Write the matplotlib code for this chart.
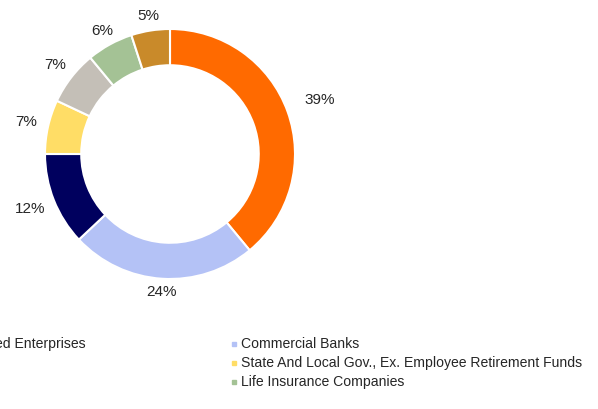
import matplotlib
matplotlib.use("Agg")
import matplotlib.pyplot as plt
import numpy as np

plt.rcParams['font.family'] = ['Liberation Sans', 'DejaVu Sans']

# ---------------------------------------------------------------
# Holdings breakdown (percent of total)
# ---------------------------------------------------------------
holders = ['Government Sponsored Enterprises', 'Commercial Banks', '',
           'State And Local Gov., Ex. Employee Retirement Funds', '',
           'Life Insurance Companies', '']
shares = [39, 24, 12, 7, 7, 6, 5]
colors = ['#FF6A00', '#B4C2F6', '#00005E', '#FFDD66', '#C4BFB7', '#A4C295', '#C98A2A']

# radial distance of each percent label (in pie radii)
label_dist = [1.27, 1.11, 1.2, 1.18, 1.16, 1.12, 1.12]

W, H = 598, 409
fig = plt.figure(figsize=(W / 100, H / 100), dpi=100)

# donut: centre (170, 154) px, outer radius 125 px
cx, cy, r = 170, 154, 125
ax = fig.add_axes([(cx - r) / W, (H - cy - r) / H, 2 * r / W, 2 * r / H])
wedges, _ = ax.pie(shares, colors=colors, startangle=90, counterclock=False,
                   radius=1, wedgeprops=dict(width=0.29, edgecolor='white', linewidth=1.5))
ax.set_xlim(-1, 1)
ax.set_ylim(-1, 1)
ax.set_aspect('equal')
ax.axis('off')

for w, val, d in zip(wedges, shares, label_dist):
    ang = np.deg2rad((w.theta1 + w.theta2) / 2)
    ax.text(d * np.cos(ang), d * np.sin(ang), f'{val}%', ha='center', va='center',
            fontsize=11, color='#262626')

# legend, laid out row by row in two columns
lg = fig.add_axes([0, 0, 1, 1])
lg.set_xlim(0, W)
lg.set_ylim(H, 0)
lg.axis('off')
col_x = [-146, 234]
row_y = [344, 363, 382, 401]
for i, (name, c) in enumerate(zip(holders, colors)):
    col, row = i % 2, i // 2
    x, y = col_x[col], row_y[row]
    lg.plot([x], [y], marker='s', markersize=3, color=c, linestyle='none', clip_on=False)
    if name:
        lg.text(x + 7, y, name, ha='left', va='center', fontsize=10.1, color='#262626')

fig.savefig('out.png', dpi=100)
